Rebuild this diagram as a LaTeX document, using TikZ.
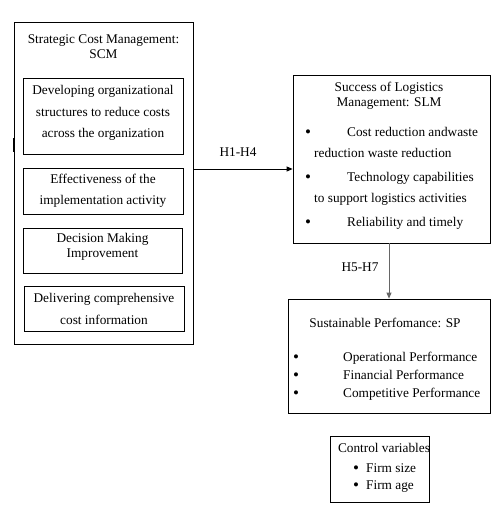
\documentclass[tikz,border=0pt]{standalone}
\usepackage{fontspec}
\setmainfont{Liberation Serif}
\usetikzlibrary{arrows.meta}
\tikzset{
  box/.style={draw, line width=0.8pt, minimum width=#1, inner sep=0pt},
  txt/.style={inner sep=0pt, font=\fontsize{13.3}{21.5}\selectfont, align=center},
  ltxt/.style={inner sep=0pt, font=\fontsize{13.3}{14}\selectfont, anchor=base west},
  bul/.style={inner sep=0pt, font=\fontsize{17}{14}\selectfont, anchor=base west},
  arr/.style={line width=0.8pt, -{Triangle[length=6pt,width=5pt]}},
}
\begin{document}
\begin{tikzpicture}[x=1pt,y=-1pt]
\useasboundingbox[fill=white] (0,0) rectangle (500,506);
% SCM
\node[box=179pt, minimum height=322pt] (scm) at (103.5,183) {};
\draw[line width=1pt] (13,138) -- (13,152);
\node[txt, font=\fontsize{13.3}{15}\selectfont] (scmt) at (103.5,47) {Strategic Cost Management:\\SCM};
\node[box=160pt, minimum height=76pt] (b1) at (103,116) {};
\node[txt] (b1t) at (103,113) {Developing organizational\\structures to reduce costs\\across the organization};
\node[box=160pt, minimum height=46pt] (b2) at (103,191) {};
\node[txt] (b2t) at (103,191) {Effectiveness of the\\implementation activity};
\node[box=159pt, minimum height=45pt] (b3) at (102.5,250.5) {};
\node[txt, font=\fontsize{13.3}{14.5}\selectfont] (b3t) at (102.5,247) {Decision Making\\Improvement};
\node[box=160pt, minimum height=45pt] (b4) at (104,308.5) {};
\node[txt] (b4t) at (104,309) {Delivering comprehensive\\cost information};
% SLM
\node[box=197pt, minimum height=168pt] (slm) at (391.5,159) {};
\node[txt, font=\fontsize{13.3}{14.5}\selectfont] (slmt) at (389,96) {Success of Logistics\\Management: SLM};
\node[bul] (s1b) at (305,137) {•};
\node[ltxt] (s1) at (347,136) {Cost reduction andwaste};
\node[ltxt] (s1c) at (314,157) {reduction waste reduction};
\node[bul] (s2b) at (305,182) {•};
\node[ltxt] (s2) at (347,181) {Technology capabilities};
\node[ltxt] (s2c) at (314,202) {to support logistics activities};
\node[bul] (s3b) at (305,227) {•};
\node[ltxt] (s3) at (347,226) {Reliability and timely};
% SP
\node[box=202pt, minimum height=114pt] (sp) at (389,356) {};
\node[txt] (spt) at (385,323) {Sustainable Perfomance: SP};
\node[bul] (p1b) at (293,362) {•};
\node[ltxt] (p1) at (343,361) {Operational Performance};
\node[bul] (p2b) at (293,380) {•};
\node[ltxt] (p2) at (343,379) {Financial Performance};
\node[bul] (p3b) at (293,398) {•};
\node[ltxt] (p3) at (343,397) {Competitive Performance};
% Control
\node[box=99pt, minimum height=66pt] (ctl) at (379.5,469) {};
\node[txt] (ctlt) at (384,448) {Control variables};
\node[bul] (c1b) at (353,473) {•};
\node[ltxt] (c1) at (366,472) {Firm size};
\node[bul] (c2b) at (353,490) {•};
\node[ltxt] (c2) at (366,489) {Firm age};
% arrows
\draw[arr] (scm.east |- 0,169) -- (slm.west |- 0,169);
\node[txt] (h1) at (238,152) {H1-H4};
\draw[arr, draw=gray!80!black] (389,0 |- slm.south) -- (389,0 |- sp.north);
\node[txt] (h5) at (360,267) {H5-H7};
\end{tikzpicture}
\end{document}
